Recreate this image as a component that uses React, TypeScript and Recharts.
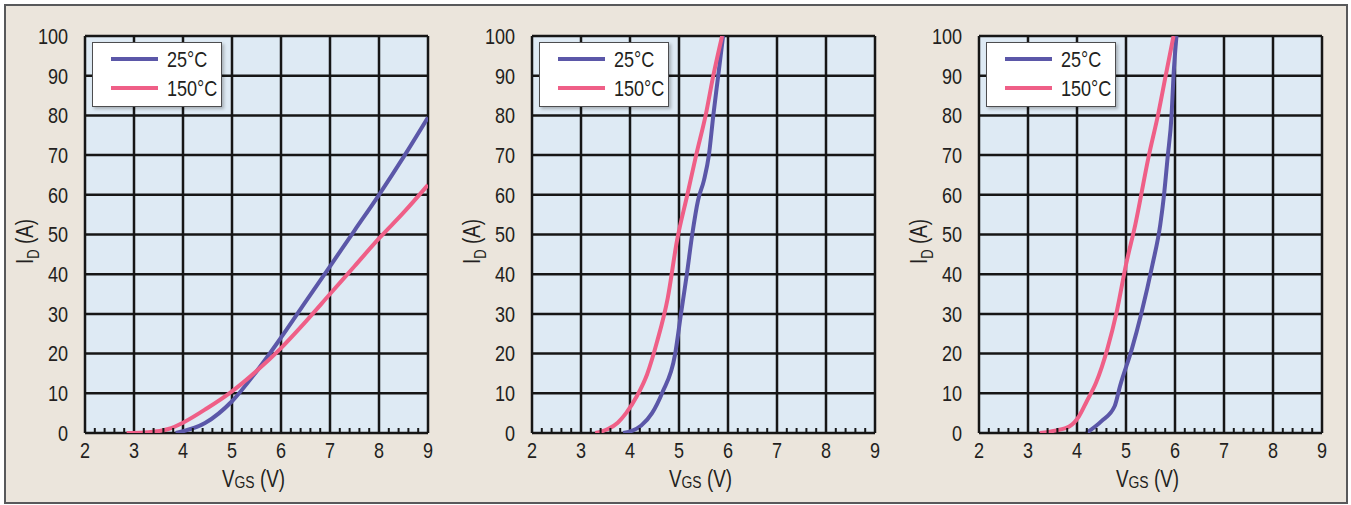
import React from 'react';
import { LineChart, Line, XAxis, YAxis, CartesianGrid, Legend } from 'recharts';

// ---- axis ticks ----
const xTicks = [2, 3, 4, 5, 6, 7, 8, 9];
const minorXTicks = [
  2.2, 2.4, 2.6, 2.8, 3.2, 3.4, 3.6, 3.8, 4.2, 4.4, 4.6, 4.8, 5.2, 5.4, 5.6, 5.8,
  6.2, 6.4, 6.6, 6.8, 7.2, 7.4, 7.6, 7.8, 8.2, 8.4, 8.6, 8.8,
];
const yTicks = [0, 10, 20, 30, 40, 50, 60, 70, 80, 90, 100];

// ---- series names ----
const name25 = '25°C';
const name150 = '150°C';

// ---- panel 1 : [VGS (V), ID (A)] ----
const p1_25: [number, number][] = [
  [3.85, 0], [4.45, 2.5], [5.0, 8], [5.5, 15.5], [6.0, 24], [6.5, 33], [7.0, 42],
  [7.5, 51], [8.0, 60], [8.5, 69.5], [9.0, 79.5],
];
const p1_150: [number, number][] = [
  [2.85, 0], [3.3, 0.2], [3.7, 1], [4.0, 2.6], [4.5, 6.3], [5.0, 10.5], [5.5, 15.6],
  [6.0, 21.4], [6.5, 28], [7.0, 35], [7.5, 42], [8.0, 49], [8.5, 55.5], [9.0, 62.5],
];

// ---- panel 2 ----
const p2_25: [number, number][] = [
  [3.86, 0], [4.05, 0.6], [4.23, 1.9], [4.45, 5], [4.66, 10.2], [4.92, 19.8], [5.04, 30],
  [5.16, 40], [5.27, 50], [5.39, 58.7], [5.51, 63.7], [5.61, 70], [5.7, 80], [5.8, 90], [5.9, 100],
];
const p2_150: [number, number][] = [
  [3.29, 0], [3.55, 1], [3.75, 2.6], [3.92, 5], [4.15, 9.5], [4.35, 14.8], [4.55, 22.9],
  [4.77, 34], [4.96, 48.5], [5.17, 60], [5.35, 70], [5.55, 80.4], [5.7, 90], [5.88, 100],
];

// ---- panel 3 ----
const p3_25: [number, number][] = [
  [4.19, 0], [4.5, 3], [4.77, 6.8], [4.88, 11.9], [5.12, 21.2], [5.31, 30], [5.54, 42.4],
  [5.7, 52.5], [5.77, 59.3], [5.85, 69.5], [5.93, 80], [5.97, 90], [6.03, 100],
];
const p3_150: [number, number][] = [
  [3.24, 0], [3.55, 0.6], [3.85, 1.7], [4.04, 4.2], [4.2, 8], [4.39, 12.7], [4.62, 21.2],
  [4.81, 30.5], [5.0, 42.4], [5.19, 52.5], [5.46, 69.5], [5.66, 80.5], [5.81, 90], [5.97, 100],
];

const BLUE = '#5b57a8';
const PINK = '#ef5f87';
const FONT = "'Liberation Sans', Arial, sans-serif";
const TEXT = '#231f20';
const SX = 0.82; // horizontal condensing, like a narrow grotesque

const toObj = (arr: [number, number][]) => arr.map(([v, i]) => ({ v, i }));
const squeeze = (x: number, y: number) => `translate(${x},${y}) scale(${SX},1) translate(${-x},${-y})`;

const MinorTick = (props: any) => {
  const { x, y } = props;
  return <line x1={x} x2={x} y1={y - 6} y2={y - 1} stroke="#161616" strokeWidth={2} />;
};

const XTick = (props: any) => {
  const { x, y, payload } = props;
  return (
    <text x={x} y={y} dy="0.71em" textAnchor="middle" fill={TEXT} fontFamily={FONT} fontSize={22} transform={squeeze(x, y)}>
      {payload.value}
    </text>
  );
};

const YTick = (props: any) => {
  const { x, y, payload } = props;
  return (
    <text x={x} y={y} dy="0.355em" textAnchor="end" fill={TEXT} fontFamily={FONT} fontSize={22} transform={squeeze(x, y)}>
      {payload.value}
    </text>
  );
};

const XTitle = (props: any) => {
  const vb = props.viewBox || {};
  const cx = vb.x + vb.width / 2 - 3;
  const y = 487;
  return (
    <text x={cx} y={y} textAnchor="middle" fill={TEXT} fontFamily={FONT} fontSize={23} transform={squeeze(cx, y)}>
      V<tspan fontSize={17} dy={1}>GS</tspan>
      <tspan dy={-1}> (V)</tspan>
    </text>
  );
};

const YTitle = (props: any) => {
  const vb = props.viewBox || {};
  const x = vb.x + vb.width - 52;
  const y = vb.y + vb.height / 2 + 7;
  return (
    <g transform={`rotate(-90, ${x}, ${y})`}>
      <text x={x} y={y} textAnchor="middle" fill={TEXT} fontFamily={FONT} fontSize={23} transform={squeeze(x, y)}>
        I<tspan fontSize={16} dy={6}>D</tspan>
        <tspan dy={-6}> (A)</tspan>
      </text>
    </g>
  );
};

const order = [name25, name150];

const LegendBox = (props: any) => {
  const payload = [...(props.payload || [])].sort(
    (a: any, b: any) => order.indexOf(a.value) - order.indexOf(b.value)
  );
  return (
    <div
      style={{
        width: 130,
        height: 65,
        boxSizing: 'border-box',
        background: '#ffffff',
        border: '1px solid #4d4d4f',
        boxShadow: '2px 2px 3px rgba(0,0,0,0.25)',
        position: 'relative',
        fontFamily: FONT,
      }}
    >
      {payload.map((p: any, idx: number) => (
        <div key={idx} style={{ position: 'absolute', left: 0, top: 4 + idx * 29, height: 26, width: 128 }}>
          <svg width={70} height={26} style={{ position: 'absolute', left: 0, top: 0 }}>
            <line x1={18} x2={65} y1={12} y2={12} stroke={p.color} strokeWidth={4} />
          </svg>
          <span
            style={{
              position: 'absolute',
              left: 74,
              top: 0,
              fontSize: 22,
              lineHeight: '26px',
              color: TEXT,
              whiteSpace: 'nowrap',
              transform: `scaleX(${SX})`,
              transformOrigin: 'left center',
            }}
          >
            {p.value}
          </span>
        </div>
      ))}
    </div>
  );
};

const Panel = ({ left, cold, hot }: { left: number; cold: [number, number][]; hot: [number, number][] }) => (
  <div style={{ position: 'absolute', left, top: 0, width: 450, height: 505 }}>
    <LineChart width={450} height={505} margin={{ top: 36, right: 22, bottom: 1, left: 25 }}>
      <CartesianGrid stroke="#161616" strokeWidth={2.5} fill="#deeaf4" fillOpacity={1} />
      <XAxis
        dataKey="v"
        type="number"
        domain={[2, 9]}
        ticks={xTicks}
        interval={0}
        height={1}
        tickSize={0}
        tickMargin={9}
        axisLine={false}
        tickLine={false}
        tick={XTick}
        allowDataOverflow
        label={XTitle}
      />
      <XAxis
        xAxisId="minor"
        dataKey="v"
        type="number"
        domain={[2, 9]}
        ticks={minorXTicks}
        interval={0}
        height={70}
        tickSize={0}
        tickMargin={0}
        axisLine={false}
        tickLine={false}
        tick={MinorTick}
        allowDataOverflow
      />
      <YAxis
        type="number"
        domain={[0, 100]}
        ticks={yTicks}
        interval={0}
        width={60}
        tickSize={0}
        tickMargin={17}
        axisLine={false}
        tickLine={false}
        tick={YTick}
        allowDataOverflow
        label={YTitle}
      />
      <Legend
        layout="vertical"
        align="center"
        verticalAlign="middle"
        content={LegendBox}
        wrapperStyle={{ position: 'absolute', left: 92, top: 42, width: 130, height: 65 }}
      />
      <Line
        data={toObj(cold)}
        dataKey="i"
        name={name25}
        type="monotone"
        stroke={BLUE}
        strokeWidth={4}
        dot={false}
        isAnimationActive={false}
      />
      <Line
        data={toObj(hot)}
        dataKey="i"
        name={name150}
        type="monotone"
        stroke={PINK}
        strokeWidth={4}
        dot={false}
        isAnimationActive={false}
      />
    </LineChart>
  </div>
);

export default function App() {
  return (
    <div style={{ position: 'absolute', left: 0, top: 0, width: 1351, height: 505, background: '#ffffff', overflow: 'hidden' }}>
      <div
        style={{
          position: 'absolute',
          left: 4,
          top: 4,
          width: 1344,
          height: 500,
          boxSizing: 'border-box',
          border: '2px solid #58595b',
          background: '#ebe5dc',
        }}
      />
      <Panel left={0} cold={p1_25} hot={p1_150} />
      <Panel left={447} cold={p2_25} hot={p2_150} />
      <Panel left={894} cold={p3_25} hot={p3_150} />
    </div>
  );
}
